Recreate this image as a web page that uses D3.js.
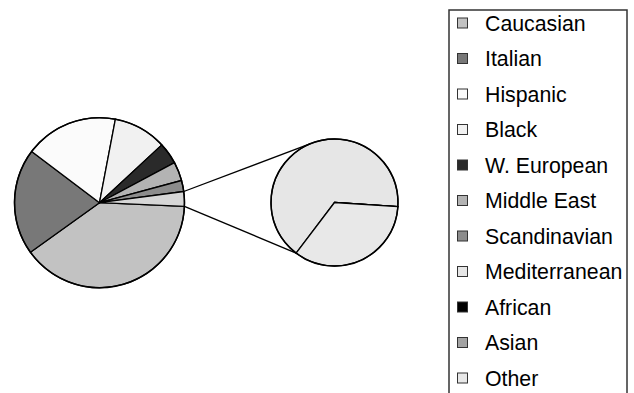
<!DOCTYPE html>
<html>
<head>
<meta charset="utf-8">
<script src="https://cdn.jsdelivr.net/npm/d3@7"></script>
<style>
  html, body { margin: 0; padding: 0; background: #fff; }
  svg { display: block; }
</style>
</head>
<body>
<svg id="chart" width="634" height="393"></svg>
<script>
// Groups shown in the main pie
const mainLabels = ["Caucasian", "Italian", "Hispanic", "Black", "W. European", "Middle East", "Scandinavian"];
const mainValues = [39.4, 20.2, 17.7, 10.1, 4.1, 3.6, 2.1];
const mainColors = ["#c2c2c2", "#787878", "#fbfbfb", "#f1f1f1", "#2a2a2a", "#b3b3b3", "#8c8c8c"];

// Small groups broken out into the secondary pie
const splitLabels = ["Mediterranean", "African", "Asian", "Other"];
const splitValues = [1.84, 0, 0, 0.96];
const splitColors = ["#e6e6e6", "#000000", "#a3a3a3", "#e8e8e8"];

// Colour of the combined slice in the main pie
const aggregateColor = "#d6d6d6";

const svg = d3.select("#chart");
const deg = Math.PI / 180;

// Layout
const main = { cx: 99.5, cy: 202.7, r: 85, start: 92.5 * deg };
const second = { cx: 334.5, cy: 202.5, r: 63.5, start: 217.2 * deg };

const splitTotal = d3.sum(splitValues);
const mainData = mainLabels.map((l, i) => ({ label: l, value: mainValues[i], color: mainColors[i] }))
  .concat([{ label: "combined", value: splitTotal, color: aggregateColor }]);
const splitData = splitLabels.map((l, i) => ({ label: l, value: splitValues[i], color: splitColors[i] }));

const mainPie = d3.pie().sort(null).value(d => d.value)
  .startAngle(main.start).endAngle(main.start + 2 * Math.PI);
const secondPie = d3.pie().sort(null).value(d => d.value)
  .startAngle(second.start).endAngle(second.start + 2 * Math.PI);

const mainArcs = mainPie(mainData);
const secondArcs = secondPie(splitData);

function drawPie(g, arcs, r) {
  const arc = d3.arc().innerRadius(0).outerRadius(r);
  g.selectAll("path.slice").data(arcs).join("path")
    .attr("class", "slice")
    .attr("d", arc)
    .attr("fill", d => d.data.color)
    .attr("stroke", "#000")
    .attr("stroke-width", 1.3)
    .attr("stroke-linejoin", "round");
  g.append("circle").attr("r", r)
    .attr("fill", "none").attr("stroke", "#000").attr("stroke-width", 1.5);
}

const gMain = svg.append("g").attr("transform", `translate(${main.cx},${main.cy})`);
drawPie(gMain, mainArcs, main.r);

const gSecond = svg.append("g").attr("transform", `translate(${second.cx},${second.cy})`);
drawPie(gSecond, secondArcs, second.r);

// Connector lines from the combined slice to the secondary pie
const polar = (c, a) => [c.cx + c.r * Math.sin(a), c.cy - c.r * Math.cos(a)];
const agg = mainArcs[mainArcs.length - 1];
const connectors = [
  [polar(main, agg.startAngle), polar(second, second.start + 2 * Math.PI / 3)],
  [polar(main, agg.endAngle), polar(second, second.start)]
];
svg.selectAll("line.connector").data(connectors).join("line")
  .attr("class", "connector")
  .attr("x1", d => d[0][0]).attr("y1", d => d[0][1])
  .attr("x2", d => d[1][0]).attr("y2", d => d[1][1])
  .attr("stroke", "#000").attr("stroke-width", 1.3);

// Legend
const legendLabels = mainLabels.concat(splitLabels);
const legendColors = mainColors.concat(splitColors);
const legend = svg.append("g");
legend.append("rect")
  .attr("x", 449).attr("y", 10).attr("width", 178).attr("height", 400)
  .attr("fill", "#fff").attr("stroke", "#333").attr("stroke-width", 1.5);

const ly = d3.scalePoint().domain(legendLabels).range([23, 378]);
const items = legend.selectAll("g.item").data(legendLabels).join("g")
  .attr("class", "item")
  .attr("transform", d => `translate(0,${ly(d)})`);
items.append("rect")
  .attr("x", 457.5).attr("y", -5).attr("width", 10).attr("height", 10)
  .attr("fill", (d, i) => legendColors[i])
  .attr("stroke", "#333").attr("stroke-width", 1);
items.append("text")
  .attr("x", 485).attr("y", 7.5)
  .attr("font-family", "Liberation Sans, Arial, sans-serif")
  .attr("font-size", 21.3)
  .attr("fill", "#000")
  .text(d => d);
</script>
</body>
</html>
